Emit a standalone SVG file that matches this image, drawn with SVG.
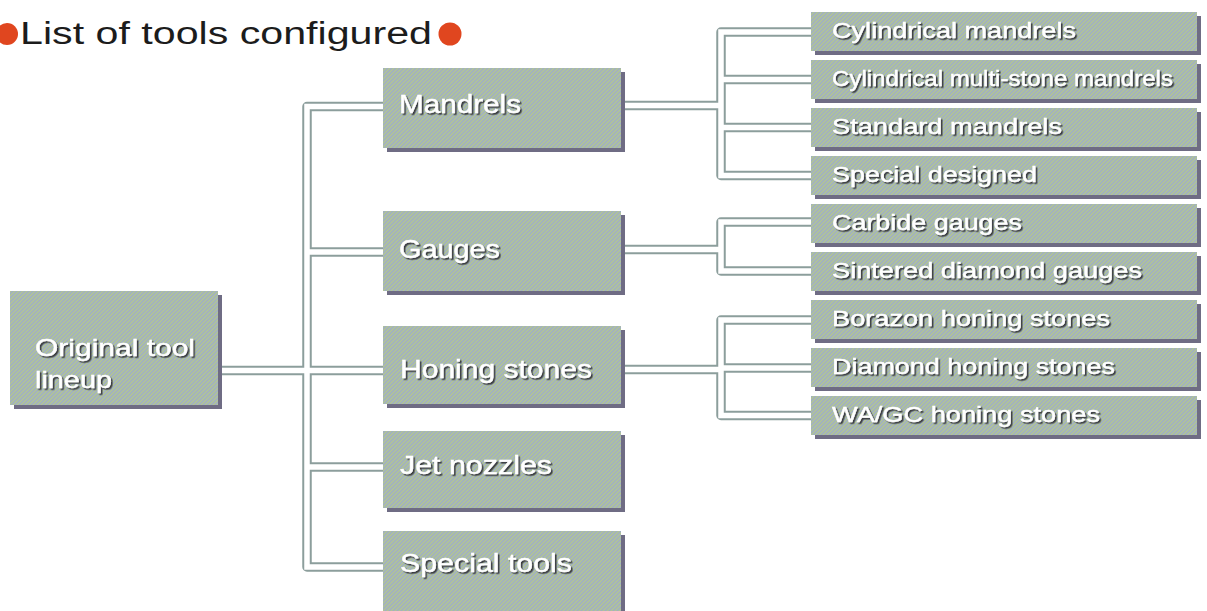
<svg xmlns="http://www.w3.org/2000/svg" width="1207" height="611" viewBox="0 0 1207 611">
<defs>
<pattern id="tex" width="4" height="4" patternUnits="userSpaceOnUse">
<rect width="4" height="4" fill="#b2c594"/>
<path d="M-1,5 L5,-1" stroke="#a0afc4" stroke-width="1.5"/>
<path d="M-1,1 L1,-1 M3,5 L5,3" stroke="#a0afc4" stroke-width="1.5"/>
</pattern>
<filter id="ts" x="-5%" y="-20%" width="115%" height="150%">
<feDropShadow dx="1.6" dy="1.6" stdDeviation="0.5" flood-color="#2e2e35" flood-opacity="0.9"/>
</filter>
</defs>
<style>
.sh{fill:#6f6c84}
.bx{fill:url(#tex)}
.pipeo{fill:none;stroke:#8c9e9c;stroke-width:9.5;stroke-linejoin:round}
.pipei{fill:none;stroke:#ffffff;stroke-width:5.5;stroke-linejoin:miter}
.t{font-family:"Liberation Sans","DejaVu Sans",sans-serif;fill:#ffffff;filter:url(#ts);stroke:#ffffff;stroke-width:0.4}
.p{font-size:26px}
.c{font-size:22px}
.r{font-size:24px}
.title{font-family:"Liberation Sans","DejaVu Sans",sans-serif;font-size:31px;fill:#1c1c1c}
</style>
<rect width="1207" height="611" fill="#ffffff"/>

<g id="title">
<circle cx="7" cy="34" r="11" fill="#e0461f"/>
<text class="title" x="20" y="44" textLength="412" lengthAdjust="spacingAndGlyphs">List of tools configured</text>
<circle cx="450" cy="34" r="11.5" fill="#e0461f"/>
</g>

<g id="connectors">
<g class="pipeo">
<path d="M222,370.5 H383"/>
<path d="M383,106.5 H307 V567 H383"/>
<path d="M307,252 H383"/>
<path d="M307,467 H383"/>
<path d="M625,105.5 H721"/>
<path d="M811,32 H721 V175.5 H811"/>
<path d="M721,79.5 H811"/>
<path d="M721,127.5 H811"/>
<path d="M625,249.5 H721"/>
<path d="M811,222 H721 V271 H811"/>
<path d="M625,369.5 H721"/>
<path d="M811,320 H721 V415.5 H811"/>
<path d="M721,368 H811"/>
</g>
<g class="pipei">
<path d="M222,370.5 H383"/>
<path d="M383,106.5 H307 V567 H383"/>
<path d="M307,252 H383"/>
<path d="M307,467 H383"/>
<path d="M625,105.5 H721"/>
<path d="M811,32 H721 V175.5 H811"/>
<path d="M721,79.5 H811"/>
<path d="M721,127.5 H811"/>
<path d="M625,249.5 H721"/>
<path d="M811,222 H721 V271 H811"/>
<path d="M625,369.5 H721"/>
<path d="M811,320 H721 V415.5 H811"/>
<path d="M721,368 H811"/>
</g>
</g>

<g id="root">
<rect class="sh" x="14" y="295" width="208" height="114"/>
<rect class="bx" x="10" y="291" width="208" height="114"/>
<text class="t r" x="35" y="356" textLength="160" lengthAdjust="spacingAndGlyphs">Original tool</text>
<text class="t r" x="35" y="388" textLength="77" lengthAdjust="spacingAndGlyphs">lineup</text>
</g>

<g id="mandrels">
<rect class="sh" x="387" y="72" width="238" height="80"/>
<rect class="bx" x="383" y="68" width="238" height="80"/>
<text class="t p" x="399" y="113" textLength="122" lengthAdjust="spacingAndGlyphs">Mandrels</text>
</g>
<g id="gauges">
<rect class="sh" x="387" y="215" width="238" height="80"/>
<rect class="bx" x="383" y="211" width="238" height="80"/>
<text class="t p" x="399" y="258" textLength="101" lengthAdjust="spacingAndGlyphs">Gauges</text>
</g>
<g id="honing">
<rect class="sh" x="387" y="330" width="238" height="78"/>
<rect class="bx" x="383" y="326" width="238" height="78"/>
<text class="t p" x="400" y="378" textLength="192" lengthAdjust="spacingAndGlyphs">Honing stones</text>
</g>
<g id="jet">
<rect class="sh" x="387" y="435" width="238" height="77"/>
<rect class="bx" x="383" y="431" width="238" height="77"/>
<text class="t p" x="400" y="474" textLength="152" lengthAdjust="spacingAndGlyphs">Jet nozzles</text>
</g>
<g id="special-tools">
<rect class="sh" x="387" y="535" width="238" height="80"/>
<rect class="bx" x="383" y="531" width="238" height="84"/>
<text class="t p" x="400" y="572" textLength="172" lengthAdjust="spacingAndGlyphs">Special tools</text>
</g>

<g id="cyl-mandrels">
<rect class="sh" x="815" y="16" width="386" height="39"/>
<rect class="bx" x="811" y="12" width="386" height="39"/>
<text class="t c" x="832" y="38" textLength="244" lengthAdjust="spacingAndGlyphs">Cylindrical mandrels</text>
</g>
<g id="cyl-multi">
<rect class="sh" x="815" y="64" width="386" height="39"/>
<rect class="bx" x="811" y="60" width="386" height="39"/>
<text class="t c" x="832" y="86" textLength="341" lengthAdjust="spacingAndGlyphs">Cylindrical multi-stone mandrels</text>
</g>
<g id="std-mandrels">
<rect class="sh" x="815" y="112" width="386" height="39"/>
<rect class="bx" x="811" y="108" width="386" height="39"/>
<text class="t c" x="832" y="134" textLength="230" lengthAdjust="spacingAndGlyphs">Standard mandrels</text>
</g>
<g id="special-designed">
<rect class="sh" x="815" y="160" width="386" height="39"/>
<rect class="bx" x="811" y="156" width="386" height="39"/>
<text class="t c" x="832" y="182" textLength="205" lengthAdjust="spacingAndGlyphs">Special designed</text>
</g>
<g id="carbide">
<rect class="sh" x="815" y="208" width="386" height="39"/>
<rect class="bx" x="811" y="204" width="386" height="39"/>
<text class="t c" x="832" y="230" textLength="190" lengthAdjust="spacingAndGlyphs">Carbide gauges</text>
</g>
<g id="sintered">
<rect class="sh" x="815" y="256" width="386" height="39"/>
<rect class="bx" x="811" y="252" width="386" height="39"/>
<text class="t c" x="832" y="278" textLength="310" lengthAdjust="spacingAndGlyphs">Sintered diamond gauges</text>
</g>
<g id="borazon">
<rect class="sh" x="815" y="304" width="386" height="39"/>
<rect class="bx" x="811" y="300" width="386" height="39"/>
<text class="t c" x="832" y="326" textLength="278" lengthAdjust="spacingAndGlyphs">Borazon honing stones</text>
</g>
<g id="diamond">
<rect class="sh" x="815" y="352" width="386" height="39"/>
<rect class="bx" x="811" y="348" width="386" height="39"/>
<text class="t c" x="832" y="374" textLength="283" lengthAdjust="spacingAndGlyphs">Diamond honing stones</text>
</g>
<g id="wagc">
<rect class="sh" x="815" y="400" width="386" height="39"/>
<rect class="bx" x="811" y="396" width="386" height="39"/>
<text class="t c" x="832" y="422" textLength="268" lengthAdjust="spacingAndGlyphs">WA/GC honing stones</text>
</g>
</svg>
